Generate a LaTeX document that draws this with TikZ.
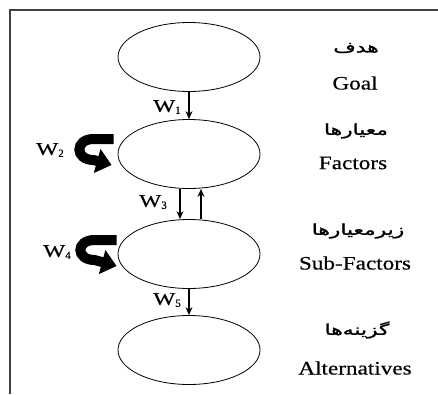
\documentclass[tikz,border=0pt]{standalone}
\usepackage{fontspec}
\setmainfont{Liberation Serif}[FakeBold=0.4]
\newfontfamily\arabicfont[Script=Arabic,FakeBold=1.2]{DejaVu Sans}
\TeXXeTstate=1
\usetikzlibrary{shapes.geometric,arrows.meta,calc}

\tikzset{
  level/.style={ellipse,draw,line width=0.8pt,minimum width=142pt,minimum height=69pt,inner sep=0pt},
  flow/.style={line width=1.1pt,-{Stealth[length=8pt,width=7pt]}},
  loop/.style={line width=10pt,-{Triangle[length=15pt,width=24pt]}},
  wlabel/.style={inner sep=0pt,font=\fontsize{18}{18}\selectfont},
  enlabel/.style={inner sep=0pt,font=\fontsize{19}{19}\selectfont},
  falabel/.style={inner sep=0pt,font=\arabicfont\fontsize{15}{15}\selectfont},
}
\newcommand{\wide}[1]{\scalebox{1.22}[1]{#1}}
\newcommand{\wider}[1]{\scalebox{1.45}[1]{#1}}
\newcommand{\wsub}[1]{\scalebox{1.3}[1]{W}\raisebox{-2pt}{\fontsize{11}{11}\selectfont #1}}

\begin{document}
\begin{tikzpicture}[x=1pt,y=-1pt]
\useasboundingbox (0,0) rectangle (438,394);

% frame (left and top rules)
\draw[line width=1.6pt,black!75] (10,394) -- (10,10) -- (438,10);

% the four levels of the hierarchy
\node[level] (goal) at (189,57) {};
\node[level] (fac)  at (189,154) {};
\node[level] (sub)  at (189,254) {};
\node[level] (alt)  at (189,350) {};

% weight arrows between levels
\draw[flow] (goal.south) -- (fac.north);
\draw[flow] ([xshift=-9pt]fac.south) -- ([xshift=-9pt]sub.north);
\draw[flow] ([xshift=12pt]sub.north) -- ([xshift=12pt]fac.south);
\draw[flow] (sub.south) -- (alt.north);

% feedback loops on the inner levels
\draw[loop] ($(fac.west)+(-4,-15)$) -- ++(-20,0)
  .. controls +(-19,0) and +(-19,0) .. ++(0,21) -- ($(fac.west)+(-6,11)$);
\draw[loop] ($(sub.west)+(-1,-14)$) -- ++(-22,0)
  .. controls +(-19,0) and +(-19,0) .. ++(0,20) -- ($(sub.west)+(-1,12)$);

% weight labels
\node[wlabel] (w1) at (167,107) {\wsub{1}};
\node[wlabel] (w2) at (50,150)  {\wsub{2}};
\node[wlabel] (w3) at (153,202) {\wsub{3}};
\node[wlabel] (w4) at (57,252)  {\wsub{4}};
\node[wlabel] (w5) at (167,300) {\wsub{5}};

% level names
\node[falabel] (fa1) at (356,48)  {\wider{\beginR هدف\endR}};
\node[enlabel] (en1) at (355,83)  {\wide{Goal}};
\node[falabel] (fa2) at (356,131) {\wider{\beginR معیارها\endR}};
\node[enlabel] (en2) at (353,163) {\wide{Factors}};
\node[falabel] (fa3) at (358,231) {\wider{\beginR زیرمعیارها\endR}};
\node[enlabel] (en3) at (355,263) {\wide{Sub-Factors}};
\node[falabel] (fa4) at (357,330) {\wider{\beginR گزینه‌ها\endR}};
\node[enlabel] (en4) at (355,368) {\wide{Alternatives}};
\end{tikzpicture}
\end{document}
